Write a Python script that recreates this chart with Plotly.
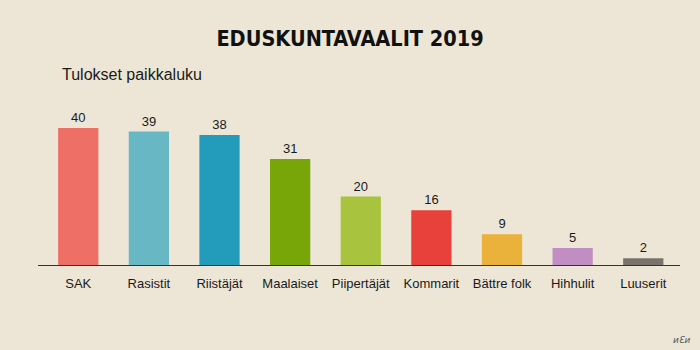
import plotly.graph_objects as go

categories = ["SAK", "Rasistit", "Riistäjät", "Maalaiset", "Piipertäjät",
              "Kommarit", "Bättre folk", "Hihhulit", "Luuserit"]
seats = [40, 39, 38, 31, 20, 16, 9, 5, 2]
colors = ["#EE6F66", "#67B7C5", "#239CBC", "#78A609", "#A8C43F",
          "#E8403A", "#EAB23A", "#C08EC2", "#7A736C"]

title_text = "EDUSKUNTAVAALIT 2019"
subtitle_text = "Tulokset paikkaluku"
signature_text = "ᴎƐᴎ"

bg = "#EDE6D6"

fig = go.Figure(go.Bar(
    x=categories, y=seats,
    marker=dict(color=colors, line=dict(width=0)),
    text=[str(v) for v in seats], textposition="outside",
    textfont=dict(family="Liberation Sans, Arial", size=13, color="#1a1a1a"),
    cliponaxis=False,
    hoverinfo="skip",
))

fig.update_layout(
    width=700, height=350,
    margin=dict(l=38, r=20, t=111, b=85),
    paper_bgcolor=bg, plot_bgcolor=bg,
    bargap=0.43,
    showlegend=False,
    title=dict(text="<b>" + title_text + "</b>", x=0.5, xanchor="center",
               y=1 - 38 / 350, yanchor="middle",
               font=dict(family="DejaVu Sans Condensed, Liberation Sans", size=21.5, color="#111")),
    xaxis=dict(showline=True, linecolor="#333", linewidth=1.3, ticks="",
               showgrid=False, zeroline=False, range=[-0.57, 8.52],
               ticklabelstandoff=6,
               tickfont=dict(family="Liberation Sans, Arial", size=13, color="#1a1a1a")),
    yaxis=dict(visible=False, range=[0, 45], showgrid=False, zeroline=False),
    annotations=[
        dict(text=subtitle_text, xref="paper", yref="paper",
             x=(60 - 38) / 642, y=(265 - 75) / 154, xanchor="left", yanchor="middle",
             showarrow=False,
             font=dict(family="Liberation Sans, Arial", size=16, color="#1a1a1a")),
        dict(text="<i>" + signature_text + "</i>", xref="paper", yref="paper",
             x=(681 - 38) / 642, y=(265 - 340) / 154, xanchor="center", yanchor="middle",
             showarrow=False,
             font=dict(family="DejaVu Sans", size=9, color="#555")),
    ],
)

fig.write_html("out.html")
